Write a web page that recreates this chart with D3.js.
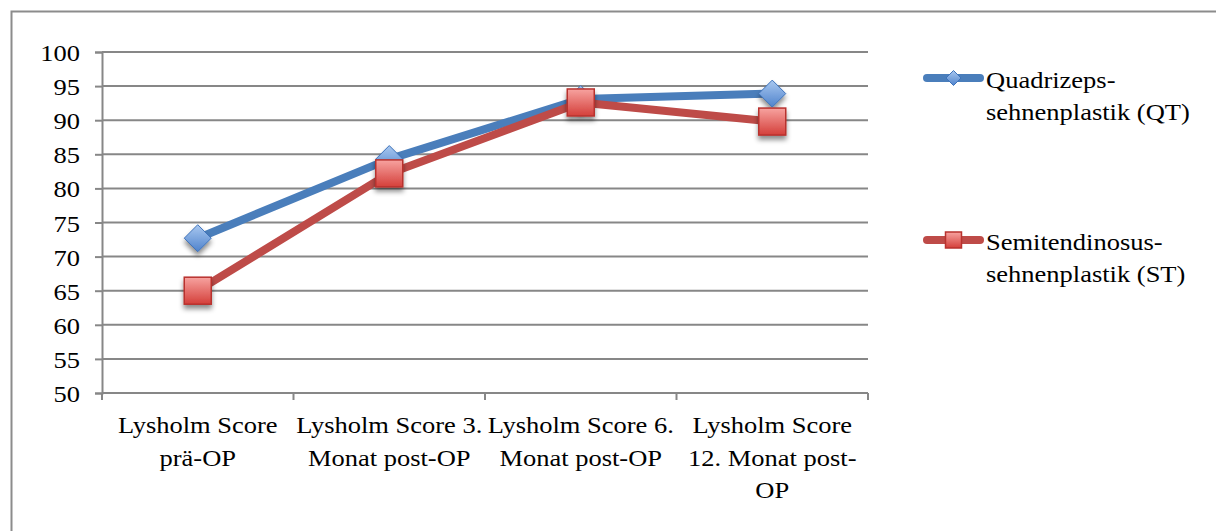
<!DOCTYPE html>
<html>
<head>
<meta charset="utf-8">
<script src="https://cdn.jsdelivr.net/npm/d3@7"></script>
<style>
  html, body { margin: 0; padding: 0; background: #fff; overflow: hidden; }
  svg { display: block; }
</style>
</head>
<body>
<svg id="chart" width="1216" height="531"></svg>
<script>
// Lysholm score over time, two graft techniques
const categories = [
  "Lysholm Score prä-OP",
  "Lysholm Score 3. Monat post-OP",
  "Lysholm Score 6. Monat post-OP",
  "Lysholm Score 12. Monat post-OP"
];
const categoryLines = [
  ["Lysholm Score", "prä-OP"],
  ["Lysholm Score 3.", "Monat post-OP"],
  ["Lysholm Score 6.", "Monat post-OP"],
  ["Lysholm Score", "12. Monat post-", "OP"]
];
const seriesNames = ["Quadrizeps-sehnenplastik (QT)", "Semitendinosus-sehnenplastik (ST)"];
const legendLines = [
  ["Quadrizeps-", "sehnenplastik (QT)"],
  ["Semitendinosus-", "sehnenplastik (ST)"]
];
const qtValues = [72.7, 84.3, 93.1, 93.9];
const stValues = [65.0, 82.2, 92.6, 89.8];
const yTicks = [50, 55, 60, 65, 70, 75, 80, 85, 90, 95, 100];

const svg = d3.select("#chart");
const W = 1216, H = 531;
const plot = { left: 102, right: 868, top: 52, bottom: 393 };
const gridColor = "#878787";
const FONT = "Liberation Serif";
const fontSize = 26.5;
const squash = 0.87;   // glyphs are slightly condensed vertically

const x = d3.scaleBand().domain(categories).range([plot.left, plot.right]);
const y = d3.scaleLinear().domain([50, 100]).range([plot.bottom, plot.top]);

const defs = svg.append("defs");
const shadow = defs.append("filter").attr("id", "mshadow")
  .attr("x", "-50%").attr("y", "-50%").attr("width", "200%").attr("height", "220%");
shadow.append("feDropShadow").attr("dx", 0).attr("dy", 4).attr("stdDeviation", 2.5)
  .attr("flood-color", "#000").attr("flood-opacity", 0.45);

function grad(id, c1, c2) {
  const g = defs.append("linearGradient").attr("id", id)
    .attr("x1", 0).attr("y1", 0).attr("x2", 0).attr("y2", 1);
  g.append("stop").attr("offset", "0%").attr("stop-color", c1);
  g.append("stop").attr("offset", "100%").attr("stop-color", c2);
}
grad("gBlue", "#a9c8f0", "#4f83cc");
grad("gRed", "#f7a3a0", "#d43f3a");

function label(g, str, tx, ty, anchor) {
  return g.append("text")
    .attr("font-family", FONT)
    .attr("font-size", fontSize)
    .attr("fill", "#000")
    .attr("text-anchor", anchor)
    .attr("transform", `translate(${tx},${ty}) scale(1,${squash})`)
    .text(str);
}

// outer frame (extends past the right and bottom edge)
svg.append("rect").attr("x", 11.5).attr("y", 11.5)
  .attr("width", W + 20).attr("height", H + 20)
  .attr("fill", "none").attr("stroke", "#8c8c8c").attr("stroke-width", 2);

// horizontal gridlines
svg.append("g").selectAll("line").data(yTicks.filter(d => d > 50)).join("line")
  .attr("x1", plot.left).attr("x2", plot.right)
  .attr("y1", d => y(d)).attr("y2", d => y(d))
  .attr("stroke", gridColor).attr("stroke-width", 2);

// y axis
const yAxis = d3.axisLeft(y).tickValues(yTicks).tickSize(7).tickPadding(0).tickFormat("");
const gy = svg.append("g").attr("transform", `translate(${plot.left},0)`).call(yAxis);
gy.attr("font-family", FONT);
gy.select(".domain").attr("stroke", gridColor).attr("stroke-width", 2);
gy.selectAll(".tick line").attr("stroke", gridColor).attr("stroke-width", 2);
gy.selectAll(".tick").each(function (d) {
  label(d3.select(this), String(d), -22, 8.5, "end");
});

// x axis
const xTickPos = categories.map(c => x(c)).concat([plot.right]);
const gx = svg.append("g");
gx.append("line").attr("x1", plot.left).attr("x2", plot.right)
  .attr("y1", plot.bottom).attr("y2", plot.bottom)
  .attr("stroke", gridColor).attr("stroke-width", 2);
gx.selectAll("line.tk").data(xTickPos).join("line").attr("class", "tk")
  .attr("x1", d => d).attr("x2", d => d)
  .attr("y1", plot.bottom).attr("y2", plot.bottom + 7)
  .attr("stroke", gridColor).attr("stroke-width", 2);
const lineGap = 32.5;
categories.forEach((c, i) => {
  const cx = x(c) + x.bandwidth() / 2;
  categoryLines[i].forEach((ln, j) => label(gx, ln, cx, 433 + j * lineGap, "middle"));
});

// series
const series = [
  { name: seriesNames[0], values: qtValues, color: "#4a7ebb", marker: "diamond" },
  { name: seriesNames[1], values: stValues, color: "#be4b48", marker: "square" }
];
const line = d3.line()
  .x((d, i) => x(categories[i]) + x.bandwidth() / 2)
  .y(d => y(d));

function drawMarker(g, type, cx, cy, size) {
  if (type === "diamond") {
    const r = size / 2;
    g.append("path")
      .attr("d", `M${cx},${cy - r}L${cx + r},${cy}L${cx},${cy + r}L${cx - r},${cy}Z`)
      .attr("fill", "url(#gBlue)").attr("stroke", "#3d72ba").attr("stroke-width", 1);
  } else {
    g.append("rect")
      .attr("x", cx - size / 2).attr("y", cy - size / 2)
      .attr("width", size).attr("height", size)
      .attr("fill", "url(#gRed)").attr("stroke", "#b8322e").attr("stroke-width", 1.5);
  }
}

series.forEach(s => {
  const g = svg.append("g");
  g.append("path").datum(s.values)
    .attr("d", line)
    .attr("fill", "none").attr("stroke", s.color)
    .attr("stroke-width", 8).attr("stroke-linejoin", "round");
  const mg = g.append("g").attr("filter", "url(#mshadow)");
  s.values.forEach((v, i) => {
    drawMarker(mg, s.marker, x(categories[i]) + x.bandwidth() / 2, y(v), 27);
  });
});

// legend
const legendY = [78, 240];
series.forEach((s, i) => {
  const g = svg.append("g");
  const ly = legendY[i];
  g.append("line").attr("x1", 927).attr("x2", 980).attr("y1", ly).attr("y2", ly)
    .attr("stroke", s.color).attr("stroke-width", 8).attr("stroke-linecap", "round");
  drawMarker(g, s.marker, 953.5, ly, s.marker === "diamond" ? 15 : 16);
  legendLines[i].forEach((ln, j) => label(g, ln, 986, ly + 10 + j * 32, "start"));
});
</script>
</body>
</html>
